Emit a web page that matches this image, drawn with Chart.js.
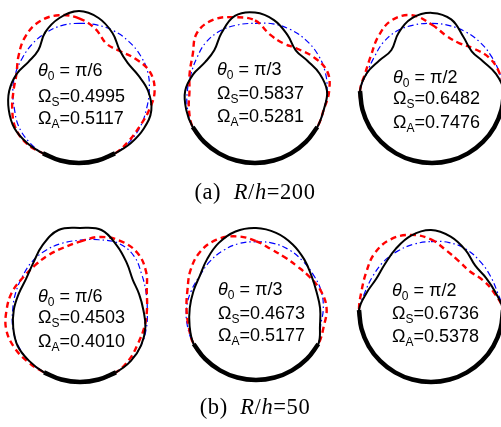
<!DOCTYPE html>
<html>
<head>
<meta charset="utf-8">
<script src="https://cdn.jsdelivr.net/npm/chart.js@4.4.0/dist/chart.umd.min.js"></script>
<style>
  html, body { margin: 0; padding: 0; background: #fff; overflow: hidden; }
  #fig { position: relative; width: 501px; height: 427px; overflow: hidden; background: #fff; }
  .panel { position: absolute; width: 180px; height: 180px; }
  .lbl { position: absolute; font-family: Arial, "Liberation Sans", sans-serif; font-size: 18px;
         line-height: 20px; white-space: nowrap; color: #000; }
  .lbl .sb { font-size: 12px; position: relative; top: 4px; }
  .cap { position: absolute; width: 300px; text-align: center; white-space: pre; color: #000; letter-spacing: 0.6px;
         font-family: "Times New Roman", "Liberation Serif", serif; font-size: 22.5px; line-height: 24px; }
</style>
</head>
<body>
<div id="fig"></div>
<script>
// Angulos de muestreo (desde arriba, sentido horario)
const angles = ['0°', '15°', '30°', '45°', '60°', '75°', '90°', '105°', '120°', '135°', '150°', '165°',
  '180°', '195°', '210°', '225°', '240°', '255°', '270°', '285°', '300°', '315°', '330°', '345°'];

// Semiangulo de apoyo y frecuencias de cada panel
const theta0Text = ['π/6', 'π/3', 'π/2', 'π/6', 'π/3', 'π/2'];
const theta0Deg = [30, 60, 90, 30, 60, 90];
const omegaS = ['0.4995', '0.5837', '0.6482', '0.4503', '0.4673', '0.6736'];
const omegaA = ['0.5117', '0.5281', '0.7476', '0.4010', '0.5177', '0.5378'];
const captions = ['(a)  ', '(b)  '];
const ratioRh = ['200', '50'];

// Radios (R = 1): linea negra, roja discontinua, azul punto-raya
const solid1 = [1.11, 1.05, 0.93, 0.80, 0.78, 0.85, 0.96, 1.04, 1.04, 1.02, 1.0, 1.0, 1.0, 1.0, 1.0, 1.02, 1.035, 1.01, 0.97, 0.90, 0.81, 0.80, 0.94, 1.05];
const dash1 = [1.01, 0.89, 0.76, 0.79, 0.90, 1.02, 1.05, 1.01, 0.975, 0.98, 1.0, 1.0, 1.0, 1.0, 1.0, 1.03, 1.02, 0.96, 0.91, 0.90, 0.97, 1.06, 1.11, 1.09];
const dot1 = [0.94, 0.95, 0.965, 0.975, 0.985, 0.99, 0.975, 0.97, 0.985, 0.995, 1.0, 1.0, 1.0, 1.0, 1.0, 0.99, 0.97, 0.93, 0.92, 0.915, 0.91, 0.92, 0.93, 0.94];

const solid2 = [1.09, 1.02, 0.90, 0.80, 0.84, 0.93, 1.0, 0.99, 1.0, 1.0, 1.0, 1.0, 1.0, 1.0, 1.0, 1.0, 1.0, 0.99, 0.97, 0.89, 0.80, 0.80, 0.93, 1.08];
const dash2 = [0.98, 0.81, 0.77, 0.83, 0.94, 1.04, 1.03, 0.99, 1.0, 1.0, 1.0, 1.0, 1.0, 1.0, 1.0, 1.0, 1.0, 0.95, 0.91, 0.94, 1.0, 1.14, 1.145, 1.06];
const dot2 = [0.94, 0.965, 0.985, 1.0, 1.01, 1.01, 1.0, 0.99, 1.0, 1.0, 1.0, 1.0, 1.0, 1.0, 1.0, 1.0, 1.0, 0.97, 0.94, 0.92, 0.93, 0.96, 0.965, 0.95];

const solid3 = [1.085, 1.03, 0.87, 0.78, 0.82, 0.92, 1.0, 1.0, 1.0, 1.0, 1.0, 1.0, 1.0, 1.0, 1.0, 1.0, 1.0, 1.0, 1.0, 0.94, 0.845, 0.80, 0.93, 1.05];
const dash3 = [0.92, 0.79, 0.765, 0.83, 0.92, 0.97, 1.0, 1.0, 1.0, 1.0, 1.0, 1.0, 1.0, 1.0, 1.0, 1.0, 1.0, 1.0, 1.0, 0.96, 0.98, 1.06, 1.13, 1.09];
const dot3 = [0.94, 0.94, 0.945, 0.95, 0.955, 0.97, 1.0, 1.0, 1.0, 1.0, 1.0, 1.0, 1.0, 1.0, 1.0, 1.0, 1.0, 1.0, 1.0, 0.94, 0.93, 0.955, 0.965, 0.95];

const solid4 = [1.14, 1.15, 1.03, 0.92, 0.845, 0.85, 0.88, 0.94, 0.98, 1.0, 1.0, 1.0, 1.0, 1.0, 1.0, 1.0, 1.0, 0.96, 0.92, 0.88, 0.865, 0.92, 1.04, 1.15];
const dash4 = [0.95, 1.05, 1.11, 1.125, 1.06, 0.96, 0.93, 0.925, 0.93, 0.97, 1.0, 1.0, 1.0, 1.0, 1.0, 1.02, 1.05, 1.06, 1.02, 0.975, 0.91, 0.88, 0.88, 0.895];
const dot4 = [0.97, 1.01, 1.07, 1.06, 0.99, 0.95, 0.935, 0.955, 0.98, 0.99, 1.0, 1.0, 1.0, 1.0, 1.0, 1.0, 0.99, 0.965, 0.935, 0.925, 0.925, 0.945, 0.955, 0.96];

const solid5 = [1.11, 1.08, 1.02, 0.95, 0.89, 0.87, 0.89, 0.92, 1.0, 1.0, 1.0, 1.0, 1.0, 1.0, 1.0, 1.0, 1.0, 0.955, 0.92, 0.90, 0.90, 0.96, 1.04, 1.10];
const dash5 = [0.93, 0.84, 0.81, 0.815, 0.86, 0.93, 0.98, 0.975, 1.0, 1.0, 1.0, 1.0, 1.0, 1.0, 1.0, 1.0, 1.0, 0.97, 0.965, 0.985, 1.05, 1.10, 1.095, 1.03];
const dot5 = [0.92, 0.93, 0.93, 0.92, 0.92, 0.935, 0.935, 0.93, 1.0, 1.0, 1.0, 1.0, 1.0, 1.0, 1.0, 1.0, 1.0, 0.985, 0.965, 0.93, 0.90, 0.91, 0.92, 0.925];

const solid6 = [1.11, 1.055, 0.96, 0.87, 0.885, 0.93, 1.0, 1.0, 1.0, 1.0, 1.0, 1.0, 1.0, 1.0, 1.0, 1.0, 1.0, 1.0, 1.0, 0.925, 0.875, 0.905, 0.98, 1.07];
const dash6 = [0.98, 0.85, 0.78, 0.76, 0.83, 0.91, 1.0, 1.0, 1.0, 1.0, 1.0, 1.0, 1.0, 1.0, 1.0, 1.0, 1.0, 1.0, 1.0, 1.0, 1.04, 1.11, 1.13, 1.08];
const dot6 = [0.95, 0.97, 0.975, 0.96, 0.95, 0.955, 1.0, 1.0, 1.0, 1.0, 1.0, 1.0, 1.0, 1.0, 1.0, 1.0, 1.0, 1.0, 1.0, 0.95, 0.935, 0.94, 0.94, 0.945];

const solids = [solid1, solid2, solid3, solid4, solid5, solid6];
const dashes = [dash1, dash2, dash3, dash4, dash5, dash6];
const dots = [dot1, dot2, dot3, dot4, dot5, dot6];

// Posiciones en la pagina (centro del circulo y textos)
const layout = [
  { cx: 79, cy: 91, tx: 38, ty: [60, 86, 108] },
  { cx: 255, cy: 91, tx: 217, ty: [59, 83, 106] },
  { cx: 432, cy: 91, tx: 393, ty: [67, 88, 112] },
  { cx: 80, cy: 310, tx: 38, ty: [286, 307, 331] },
  { cx: 256, cy: 308, tx: 218, ty: [279, 303, 325] },
  { cx: 431, cy: 310, tx: 392, ty: [280, 303, 326] },
];
const capLayout = [{ cx: 255, top: 180 }, { cx: 255, top: 395 }];

const fig = document.getElementById('fig');

const addText = (cls, html, left, top) => {
  const div = document.createElement('div');
  div.className = cls;
  div.innerHTML = html;
  div.style.left = left + 'px';
  div.style.top = top + 'px';
  fig.appendChild(div);
};

solids.forEach((solid, p) => {
  const pos = layout[p];
  const box = document.createElement('div');
  box.className = 'panel';
  box.style.left = (pos.cx - 90) + 'px';
  box.style.top = (pos.cy - 90) + 'px';
  const canvas = document.createElement('canvas');
  canvas.width = 180;
  canvas.height = 180;
  box.appendChild(canvas);
  fig.appendChild(box);

  // Tramo apoyado (linea gruesa) alrededor del punto inferior
  const half = theta0Deg[p];
  const support = solid.map((r, i) => (Math.abs(i * 15 - 180) <= half ? r : null));

  new Chart(canvas.getContext('2d'), {
    type: 'radar',
    data: {
      labels: angles,
      datasets: [
        { data: solid, borderColor: '#000', borderWidth: 2, tension: 0.4 },
        { data: support, borderColor: '#000', borderWidth: 4.5, tension: 0.4, spanGaps: false },
        { data: dashes[p], borderColor: '#ff0000', borderWidth: 2.4, borderDash: [6, 4], tension: 0.4 },
        { data: dots[p], borderColor: '#0000ff', borderWidth: 1.2, borderDash: [6, 3, 1.5, 3], tension: 0.4 },
      ],
    },
    options: {
      responsive: false,
      animation: false,
      events: [],
      elements: {
        point: { radius: 0 },
        line: { fill: false, backgroundColor: 'transparent' },
      },
      plugins: { legend: { display: false }, tooltip: { enabled: false } },
      scales: {
        r: {
          display: false,
          min: 0,
          max: 1.25,
          ticks: { display: false },
          pointLabels: { display: false },
          grid: { display: false },
          angleLines: { display: false },
        },
      },
    },
  });

  addText('lbl', `<i>θ</i><span class="sb">0</span> = ${theta0Text[p]}`, pos.tx, pos.ty[0]);
  addText('lbl', `Ω<span class="sb">S</span>=${omegaS[p]}`, pos.tx, pos.ty[1]);
  addText('lbl', `Ω<span class="sb">A</span>=${omegaA[p]}`, pos.tx, pos.ty[2]);
});

captions.forEach((c, k) => {
  addText('cap', `${c}<i>R</i>/<i>h</i>=${ratioRh[k]}`, capLayout[k].cx - 150, capLayout[k].top);
});
</script>
</body>
</html>
